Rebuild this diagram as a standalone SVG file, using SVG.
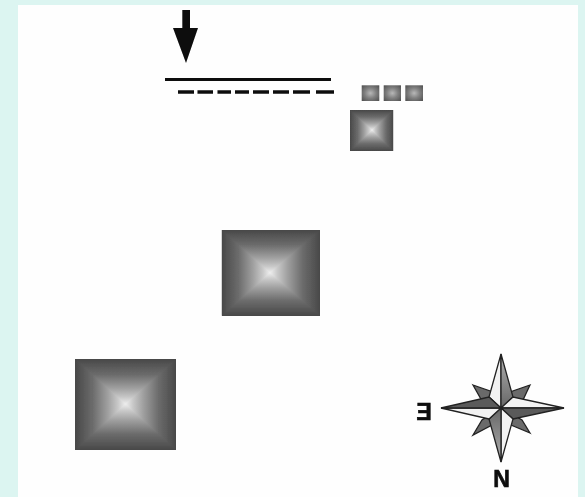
<svg xmlns="http://www.w3.org/2000/svg" width="585" height="497" viewBox="0 0 585 497">
<style>
.lbl{font-family:"Liberation Sans",Arial,sans-serif;font-weight:700;font-size:23px;fill:#111;stroke:#111;stroke-width:.7;text-anchor:middle}
.ink{fill:#0a0a0a}
.o{stroke:#222;stroke-width:1.3;stroke-linejoin:miter}
.base{fill:#777}
.tri{shape-rendering:crispEdges}
.tiny{fill:url(#gTiny)}
</style>
<defs>
<filter id="soft" x="-5%" y="-5%" width="110%" height="110%"><feGaussianBlur stdDeviation="0.6"/></filter>
<linearGradient id="gT" x1="0" y1="0" x2="0" y2="1"><stop offset="0" stop-color="#484848"/><stop offset=".35" stop-color="#6c6c6c"/><stop offset=".65" stop-color="#a0a0a0"/><stop offset=".85" stop-color="#c8c8c8"/><stop offset="1" stop-color="#eee"/></linearGradient>
<linearGradient id="gB" x1="0" y1="1" x2="0" y2="0"><stop offset="0" stop-color="#484848"/><stop offset=".35" stop-color="#6c6c6c"/><stop offset=".65" stop-color="#a0a0a0"/><stop offset=".85" stop-color="#c8c8c8"/><stop offset="1" stop-color="#eee"/></linearGradient>
<linearGradient id="gL" x1="0" y1="0" x2="1" y2="0"><stop offset="0" stop-color="#484848"/><stop offset=".35" stop-color="#6c6c6c"/><stop offset=".65" stop-color="#a0a0a0"/><stop offset=".85" stop-color="#c8c8c8"/><stop offset="1" stop-color="#eee"/></linearGradient>
<linearGradient id="gR" x1="1" y1="0" x2="0" y2="0"><stop offset="0" stop-color="#484848"/><stop offset=".35" stop-color="#6c6c6c"/><stop offset=".65" stop-color="#a0a0a0"/><stop offset=".85" stop-color="#c8c8c8"/><stop offset="1" stop-color="#eee"/></linearGradient>
<radialGradient id="gTiny" cx=".5" cy=".5" r=".65"><stop offset="0" stop-color="#b8b8b8"/><stop offset=".5" stop-color="#808080"/><stop offset="1" stop-color="#555"/></radialGradient>
<linearGradient id="facet" x1="0" y1="0" x2="0" y2="1"><stop offset="0" stop-color="#666"/><stop offset="1" stop-color="#b0b0b0"/></linearGradient>
<linearGradient id="facet2" x1="0" y1="1" x2="0" y2="0"><stop offset="0" stop-color="#666"/><stop offset="1" stop-color="#b0b0b0"/></linearGradient>
</defs>
<rect width="585" height="497" fill="#dcf5f1"/>
<rect x="18" y="5" width="560" height="492" fill="#fefefe"/>
<g filter="url(#soft)">
<g id="arrow"><path class="ink" d="M182.300 10H190V28H198L186 63L173 28H182.300Z"/></g>
<g id="connectors">
<path d="M165 79.500H331" stroke="#0a0a0a" stroke-width="3" fill="none"/>
<path d="M178 92H194M197.500 92H213M217.500 92H231M235 92H249M253 92H269M273 92H289M293 92H310M316 92H334" stroke="#0a0a0a" stroke-width="3.500" fill="none"/>
</g>
<g id="tiny-1"><rect class="tiny" x="361.700" y="85.300" width="17.600" height="15.700"/></g>
<g id="tiny-2"><rect class="tiny" x="383.700" y="85.300" width="17.300" height="15.700"/></g>
<g id="tiny-3"><rect class="tiny" x="405.300" y="85.300" width="17.700" height="15.700"/></g>
<g id="small"><rect class="base" x="350" y="110" width="43.300" height="41"/><path class="tri" fill="url(#gT)" d="M350 110H393.300L372 130Z"/><path class="tri" fill="url(#gB)" d="M350 151H393.300L372 130Z"/><path class="tri" fill="url(#gL)" d="M350 110V151L372 130Z"/><path class="tri" fill="url(#gR)" d="M393.300 110V151L372 130Z"/></g>
<g id="large-1"><rect class="base" x="221.700" y="230" width="98.300" height="85.700"/><path class="tri" fill="url(#gT)" d="M221.700 230H320L270 272.700Z"/><path class="tri" fill="url(#gB)" d="M221.700 315.700H320L270 272.700Z"/><path class="tri" fill="url(#gL)" d="M221.700 230V315.700L270 272.700Z"/><path class="tri" fill="url(#gR)" d="M320 230V315.700L270 272.700Z"/></g>
<g id="large-2"><rect class="base" x="75.300" y="359.300" width="100.700" height="90.700"/><path class="tri" fill="url(#gT)" d="M75.300 359.300H176L125.500 404Z"/><path class="tri" fill="url(#gB)" d="M75.300 450H176L125.500 404Z"/><path class="tri" fill="url(#gL)" d="M75.300 359.300V450L125.500 404Z"/><path class="tri" fill="url(#gR)" d="M176 359.300V450L125.500 404Z"/></g>
<g id="compass">
<path class="o" fill="#6a6a6a" d="M473 385L493 392L501 408L482 401Z"/>
<path class="o" fill="#6a6a6a" d="M530 385L523 400L501 408L510 392Z"/>
<path class="o" fill="#6a6a6a" d="M473 435L482 420L501 408L492 425Z"/>
<path class="o" fill="#6a6a6a" d="M530 433L511 425L501 408L522 420Z"/>
<path class="o" fill="#f2f2f2" d="M501 354L489 397L501 408Z"/>
<path class="o" fill="url(#facet2)" d="M501 354L513 397L501 408Z"/>
<path class="o" fill="#f2f2f2" d="M564 408L513 397L501 408Z"/>
<path class="o" fill="#5a5a5a" d="M564 408L513 419L501 408Z"/>
<path class="o" fill="#f2f2f2" d="M501 462L513 419L501 408Z"/>
<path class="o" fill="url(#facet)" d="M501 462L489 419L501 408Z"/>
<path class="o" fill="#f2f2f2" d="M441 408L489 419L501 408Z"/>
<path class="o" fill="#5a5a5a" d="M441 408L489 397L501 408Z"/>
</g>
<g id="label-n"><text class="lbl" x="501.500" y="487">N</text></g>
<g id="label-e"><text class="lbl" transform="translate(424,420) scale(-1,1)" x="0" y="0">E</text></g>
</g>
</svg>
